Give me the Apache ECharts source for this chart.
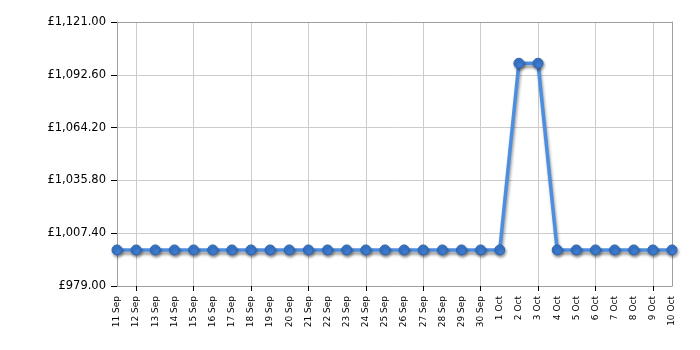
<!DOCTYPE html>
<html><head><meta charset="utf-8">
<script src="https://cdn.jsdelivr.net/npm/echarts@6/dist/echarts.min.js"></script>
<style>html,body{margin:0;padding:0;background:#fff}#c{width:700px;height:350px}</style>
</head><body><div id="c"></div>
<script>
var categories = ['11 Sep','12 Sep','13 Sep','14 Sep','15 Sep','16 Sep','17 Sep','18 Sep','19 Sep','20 Sep',
  '21 Sep','22 Sep','23 Sep','24 Sep','25 Sep','26 Sep','27 Sep','28 Sep','29 Sep','30 Sep',
  '1 Oct','2 Oct','3 Oct','4 Oct','5 Oct','6 Oct','7 Oct','8 Oct','9 Oct','10 Oct'];
var prices = [998.4,998.4,998.4,998.4,998.4,998.4,998.4,998.4,998.4,998.4,
  998.4,998.4,998.4,998.4,998.4,998.4,998.4,998.4,998.4,998.4,
  998.4,1098.8,1098.8,998.4,998.4,998.4,998.4,998.4,998.4,998.4];
var yMin = 979, yMax = 1121, yStep = 28.4;

var chart = echarts.init(document.getElementById('c'));
function fmt(v){
  return '£' + Number(v).toLocaleString('en-GB',{minimumFractionDigits:2,maximumFractionDigits:2});
}
function every3(i){ return i % 3 === 1; }
var border = {show:true,lineStyle:{color:'#a0a0a0'}};
chart.setOption({
  animation:false,
  grid:{left:117,right:28,top:22,bottom:64},
  xAxis:[{
    type:'category', data:categories, boundaryGap:false, position:'bottom',
    axisLine:border, axisTick:{show:false}, splitLine:{show:false},
    axisLabel:{interval:0,rotate:90,fontSize:9,color:'#000',fontFamily:'DejaVu Sans',margin:10}
  },{
    type:'category', data:categories, boundaryGap:false, position:'bottom',
    axisLine:{show:false}, axisLabel:{show:false},
    axisTick:{show:true,interval:every3,length:5,lineStyle:{color:'#000'}},
    splitLine:{show:true,interval:every3,lineStyle:{color:'#cccccc'}}
  },{
    type:'category', data:categories, boundaryGap:false, position:'top',
    axisLine:border, axisLabel:{show:false}, axisTick:{show:false}, splitLine:{show:false}
  }],
  yAxis:[{
    type:'value', min:yMin, max:yMax, interval:yStep, position:'left',
    axisLine:border,
    axisTick:{show:true,length:6,lineStyle:{color:'#000'}},
    splitLine:{show:true,lineStyle:{color:'#cccccc'}},
    axisLabel:{formatter:fmt,fontSize:11.5,color:'#000',fontFamily:'DejaVu Sans',margin:11}
  },{
    type:'value', min:yMin, max:yMax, interval:yStep, position:'right',
    axisLine:border, axisLabel:{show:false}, axisTick:{show:false}, splitLine:{show:false}
  }],
  series:[{
    type:'line', data:prices, xAxisIndex:0, yAxisIndex:0, symbol:'circle', symbolSize:10,
    lineStyle:{color:'#4d8ee0',width:3.5,shadowColor:'rgba(0,0,0,0.4)',shadowBlur:3,shadowOffsetX:1,shadowOffsetY:3},
    itemStyle:{color:'#3b7ad0',borderColor:'#2e64b0',borderWidth:1,shadowColor:'rgba(0,0,0,0.4)',shadowBlur:3,shadowOffsetX:1,shadowOffsetY:2}
  }]
});
</script></body></html>
